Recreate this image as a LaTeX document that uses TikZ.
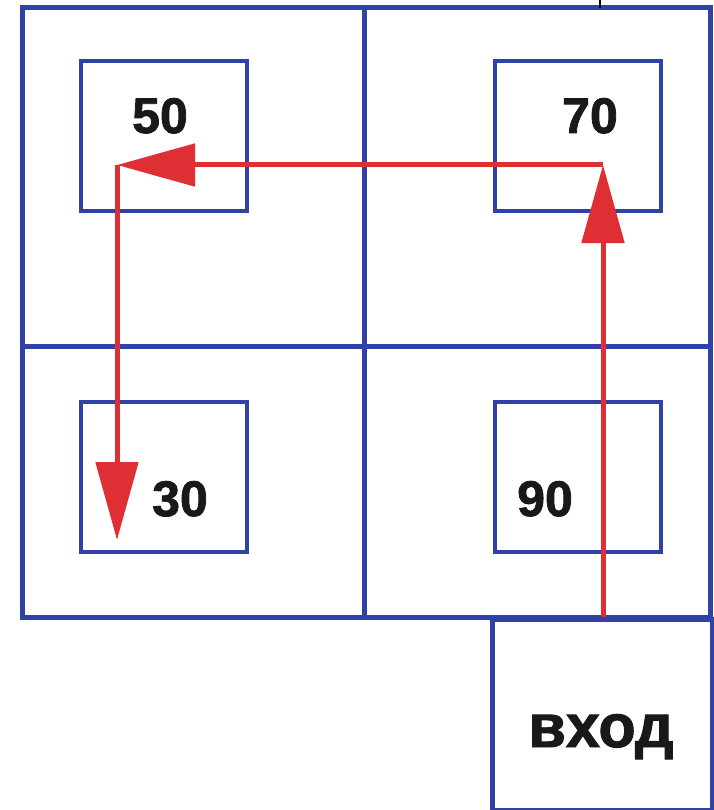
\documentclass[tikz,border=0pt]{standalone}
\usepackage{fontspec}
\setmainfont{Liberation Sans}
\newfontfamily\heavyfont[BoldFeatures={FakeBold=1.6}]{Liberation Sans}
\usepackage{tikz}
\usetikzlibrary{arrows.meta,positioning}
\definecolor{frameblue}{RGB}{48,66,168}
\definecolor{pathred}{RGB}{222,48,52}
\tikzset{
	cellbox/.style={draw=frameblue,line width=4.5pt,minimum width=166pt,minimum height=150pt,inner sep=0pt},
	num/.style={font=\fontsize{50}{50}\heavyfont\bfseries,text=black!90,anchor=base,inner sep=0pt},
	route/.style={draw=pathred,line width=5pt,-{Triangle[length=78pt,width=42pt]}}
}

\begin{document}
\begin{tikzpicture}[x=1pt,y=-1pt]
		\useasboundingbox (0,0) rectangle (713,810);
		\begin{scope}
			% frame of four cells
			\draw[frameblue,line width=5pt] (22,8) rectangle (710,617)
				(364,8) -- (364,617)
				(22,346) -- (710,346);
			\draw[black,line width=1.2pt] (600,0) -- (600,8);
			% boxes in the cells
			\node(b50) [cellbox] at (164,136) {};
			\node(b70) [cellbox] at (578,136) {};
			\node(b30) [cellbox] at (164,477) {};
			\node(b90) [cellbox] at (578,477) {};
			\node at (160,133) [num] {50};
			\node at (590,133) [num] {70};
			\node at (180,516) [num] {30};
			\node at (545,516) [num] {90};
			% entry box
			\node(entry) [draw=frameblue,line width=5pt,minimum width=220pt,minimum height=191pt,inner sep=0pt,anchor=north west] at (490,617) {};
			\node at (601,747) [num,font=\fontsize{61}{61}\heavyfont\bfseries] {вход};
			% route
			\coordinate (up) at (603,617);
			\coordinate (turnA) at (603,165);
			\coordinate (turnB) at (117,165);
			\coordinate (stop) at (117,540);
			\draw[route] (up) -- (turnA);
			\draw[route] (turnA) -- (turnB);
			\draw[route] (turnB) -- (stop);
		\end{scope}
	\end{tikzpicture}
\end{document}
